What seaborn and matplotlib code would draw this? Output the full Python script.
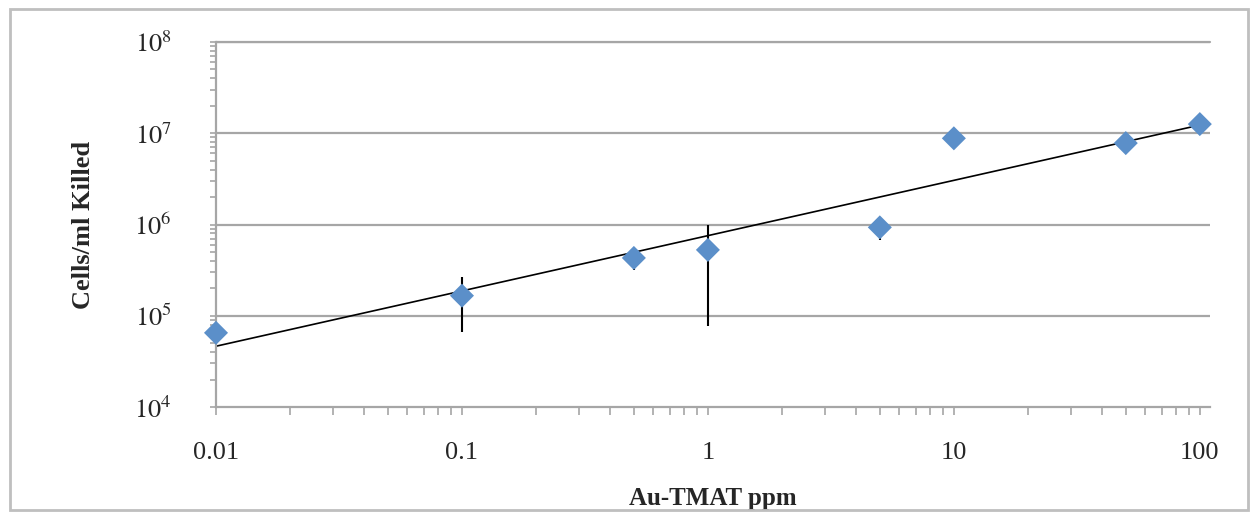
import numpy as np
import pandas as pd
import seaborn as sns
import matplotlib.pyplot as plt
from matplotlib.patches import Rectangle
from matplotlib.ticker import LogLocator, FixedLocator, NullFormatter

# data
ppm = [0.01, 0.1, 0.5, 1, 5, 10, 50, 100]
killed = [6.5e4, 1.66e5, 4.3e5, 5.27e5, 9.3e5, 8.8e6, 7.8e6, 1.26e7]
err = [0, 1.0e5, 1.1e5, 4.5e5, 2.5e5, 0, 0, 0]
x_ticks = [0.01, 0.1, 1, 10, 100]
x_tick_labels = ["0.01", "0.1", "1", "10", "100"]
y_ticks = [1e4, 1e5, 1e6, 1e7, 1e8]
y_tick_labels = ["$10^{4}$", "$10^{5}$", "$10^{6}$", "$10^{7}$", "$10^{8}$"]

df = pd.DataFrame({"ppm": ppm, "killed": killed, "err": err})

sns.set_style("white")
plt.rcParams["font.family"] = ["Liberation Serif", "DejaVu Serif"]
plt.rcParams["mathtext.fontset"] = "stix"

fig = plt.figure(figsize=(12.54, 5.12), dpi=100)
ax = fig.add_axes([216 / 1254, 1 - 407 / 512, (1210 - 216) / 1254, (407 - 42) / 512])
ax.set_xscale("log")
ax.set_yscale("log")

grid_c = "#a6a6a6"
for yv in y_ticks[1:]:
    ax.axhline(yv, color=grid_c, lw=1.6, zorder=0)

# power trendline (least squares in log-log, like Excel)
slope, icpt = np.polyfit(np.log10(df["ppm"]), np.log10(df["killed"]), 1)
xs = np.array([0.01, 100])
ax.plot(xs, 10 ** (icpt + slope * np.log10(xs)), color="black", lw=1.2, zorder=2)

ax.errorbar(df["ppm"], df["killed"], yerr=df["err"], fmt="none",
            ecolor="black", elinewidth=1.5, capsize=0, zorder=3)
sns.scatterplot(data=df, x="ppm", y="killed", marker="D", s=150,
                color="#5b8fc9", edgecolor="none", ax=ax, zorder=4, clip_on=False)

ax.set_xlim(0.01, 110)
ax.set_ylim(1e4, 1e8)

ax.xaxis.set_major_locator(FixedLocator(x_ticks))
ax.set_xticklabels(x_tick_labels)
ax.xaxis.set_minor_locator(LogLocator(base=10, subs=np.arange(2, 10)))
ax.xaxis.set_minor_formatter(NullFormatter())
ax.yaxis.set_major_locator(FixedLocator(y_ticks))
ax.set_yticklabels(y_tick_labels)
ax.yaxis.set_minor_locator(LogLocator(base=10, subs=np.arange(2, 10)))
ax.yaxis.set_minor_formatter(NullFormatter())

ax.tick_params(axis="x", which="both", direction="out", length=6, width=1.2,
               color=grid_c, bottom=True, labelsize=19, pad=19)
ax.tick_params(axis="y", which="both", direction="out", length=4, width=1.2,
               color=grid_c, left=True, labelsize=19, pad=28)

for side in ["top", "right"]:
    ax.spines[side].set_visible(False)
for side in ["left", "bottom"]:
    ax.spines[side].set_color(grid_c)
    ax.spines[side].set_linewidth(1.6)
ax.axhline(1e8, color=grid_c, lw=1.6, zorder=0, clip_on=False)

ax.set_xlabel("Au-TMAT ppm", fontsize=18, fontweight="bold")
ax.set_ylabel("Cells/ml Killed", fontsize=19, fontweight="bold")
ax.yaxis.set_label_coords(-(216 - 95) / 994, 0.5)
ax.xaxis.set_label_coords(0.5, -(487 - 407) / 365)

fig.patches.append(Rectangle((10 / 1254, 2 / 512), 1238 / 1254, 501 / 512,
                             transform=fig.transFigure, fill=False,
                             edgecolor="#bfbfbf", lw=2))

fig.savefig("out.png", dpi=100)
